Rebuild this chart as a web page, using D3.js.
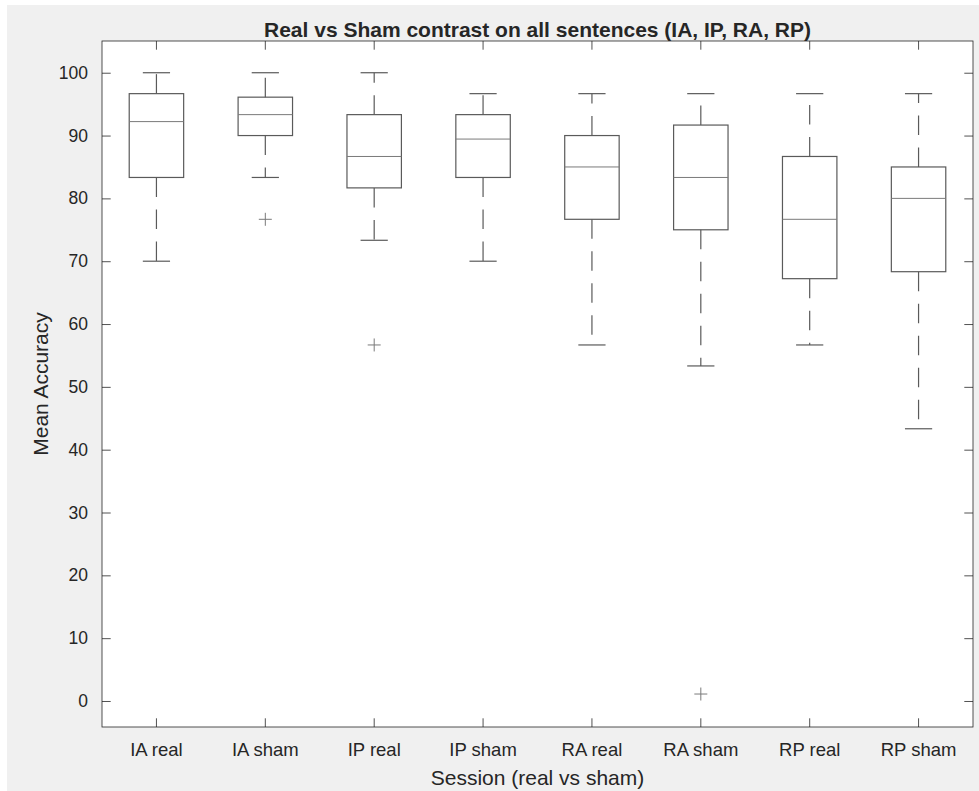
<!DOCTYPE html>
<html>
<head>
<meta charset="utf-8">
<script src="https://cdn.jsdelivr.net/npm/d3@7"></script>
<style>
	body { margin: 0; background: #fff; }
	text { font-family: 'Liberation Sans', Arial, sans-serif; fill: #262626; }
</style>
</head>
<body>
<div id="chart"></div>
<script>
let width = 979
let height = 791

let sessions = ['IA real', 'IA sham', 'IP real', 'IP sham', 'RA real', 'RA sham', 'RP real', 'RP sham']
let whiskerLow = [70, 83.33, 73.33, 70, 56.67, 53.33, 56.67, 43.33]
let q1 = [83.33, 90, 81.67, 83.33, 76.67, 75, 67.22, 68.33]
let medians = [92.22, 93.33, 86.67, 89.44, 85, 83.33, 76.67, 80]
let q3 = [96.67, 96.11, 93.33, 93.33, 90, 91.67, 86.67, 85]
let whiskerHigh = [100, 100, 100, 96.67, 96.67, 96.67, 96.67, 96.67]
let outliers = [
	{ session : 'IA sham', value : 76.67 },
	{ session : 'IP real', value : 56.67 },
	{ session : 'RA sham', value : 1.11 },
]
let yTicks = [0, 10, 20, 30, 40, 50, 60, 70, 80, 90, 100]

let margins = {
	'top' : 41,
	'right' : 6,
	'bottom' : 64,
	'left' : 102,
}

let innerW = width - margins.left - margins.right
let innerH = height - margins.top - margins.bottom
let tickLen = 8.7

let boxes = sessions.map((s, i) => {
	return {
		session : s,
		lo : whiskerLow[i],
		q1 : q1[i],
		med : medians[i],
		q3 : q3[i],
		hi : whiskerHigh[i],
	}
})

let xScale = d3.scaleBand()
	.domain(sessions)
	.range([0, innerW])

let yScale = d3.scaleLinear()
	.domain([-4.14, 105.05])
	.range([innerH, 0])

let svg = d3.select('#chart').append('svg')
	.attr('width', width)
	.attr('height', height)

// figure background
svg.append('rect')
	.attr('x', 7)
	.attr('y', 5)
	.attr('width', width - 7)
	.attr('height', height - 5)
	.attr('fill', '#f0f0f0')

let inner = svg.append('g')
	.attr('transform', `translate(${margins.left},${margins.top})`)

inner.append('rect')
	.attr('width', innerW)
	.attr('height', innerH)
	.attr('fill', '#fff')

let bw = xScale.bandwidth()
let cx = (d) => xScale(d) + bw / 2

// axes, ticks inside on all four sides
let axisColor = '#262626'

let xAxis = d3.axisBottom(xScale)
	.tickSizeInner(-tickLen)
	.tickSizeOuter(0)
	.tickPadding(16)

let xAxisTop = d3.axisTop(xScale)
	.tickSizeInner(-tickLen)
	.tickSizeOuter(0)
	.tickFormat('')

let yAxis = d3.axisLeft(yScale)
	.tickValues(yTicks)
	.tickSizeInner(-tickLen)
	.tickSizeOuter(0)
	.tickPadding(14)

let yAxisRight = d3.axisRight(yScale)
	.tickValues(yTicks)
	.tickSizeInner(-tickLen)
	.tickSizeOuter(0)
	.tickFormat('')

let axisShell = inner.append('g')

let xg = axisShell.append('g')
	.attr('transform', `translate(0,${innerH})`)
	.call(xAxis)
axisShell.append('g').call(xAxisTop)
let yg = axisShell.append('g').call(yAxis)
axisShell.append('g')
	.attr('transform', `translate(${innerW},0)`)
	.call(yAxisRight)

axisShell.selectAll('.domain').remove()
axisShell.selectAll('line').attr('stroke', axisColor).attr('stroke-width', 0.8)
axisShell.selectAll('text')
	.attr('font-family', null)
	.attr('fill', axisColor)
xg.selectAll('text').attr('font-size', 18.5)
yg.selectAll('text').attr('font-size', 17.5)

// axes frame
inner.append('rect')
	.attr('width', innerW)
	.attr('height', innerH)
	.attr('fill', 'none')
	.attr('stroke', axisColor)
	.attr('stroke-width', 0.8)

// boxplots
let marks = inner.append('g')
let boxColor = '#5a5a5a'

let groups = marks.selectAll('g.box')
	.data(boxes)
	.enter()
	.append('g')
	.classed('box', true)

// whiskers, dashed from the box edge outward
groups.append('line')
	.attr('x1', (d) => cx(d.session))
	.attr('x2', (d) => cx(d.session))
	.attr('y1', (d) => yScale(d.q3))
	.attr('y2', (d) => yScale(d.hi))
	.attr('stroke', boxColor)
	.attr('stroke-width', 1.2)
	.attr('stroke-dasharray', '19.5,12.5')

groups.append('line')
	.attr('x1', (d) => cx(d.session))
	.attr('x2', (d) => cx(d.session))
	.attr('y1', (d) => yScale(d.q1))
	.attr('y2', (d) => yScale(d.lo))
	.attr('stroke', boxColor)
	.attr('stroke-width', 1.2)
	.attr('stroke-dasharray', '19.5,12.5')

// caps
groups.selectAll('line.cap')
	.data((d) => [d, d].map((v, k) => ({ session : d.session, value : k ? d.lo : d.hi })))
	.enter()
	.append('line')
	.classed('cap', true)
	.attr('x1', (d) => cx(d.session) - bw / 8)
	.attr('x2', (d) => cx(d.session) + bw / 8)
	.attr('y1', (d) => yScale(d.value))
	.attr('y2', (d) => yScale(d.value))
	.attr('stroke', boxColor)
	.attr('stroke-width', 1.2)

groups.append('rect')
	.attr('x', (d) => cx(d.session) - bw / 4)
	.attr('y', (d) => yScale(d.q3))
	.attr('width', bw / 2)
	.attr('height', (d) => yScale(d.q1) - yScale(d.q3))
	.attr('fill', 'none')
	.attr('stroke', boxColor)
	.attr('stroke-width', 1.2)

groups.append('line')
	.attr('x1', (d) => cx(d.session) - bw / 4)
	.attr('x2', (d) => cx(d.session) + bw / 4)
	.attr('y1', (d) => yScale(d.med))
	.attr('y2', (d) => yScale(d.med))
	.attr('stroke', '#7a7a7a')
	.attr('stroke-width', 1)

// outliers as plus signs
let plus = 6.5
let outG = marks.selectAll('g.outlier')
	.data(outliers)
	.enter()
	.append('g')
	.classed('outlier', true)
	.attr('transform', (d) => `translate(${cx(d.session)},${yScale(d.value)})`)

outG.append('path')
	.attr('d', `M${-plus},0H${plus}M0,${-plus}V${plus}`)
	.attr('stroke', '#7a7a7a')
	.attr('stroke-width', 1)

// labels
svg.append('text')
	.text('Real vs Sham contrast on all sentences (IA, IP, RA, RP)')
	.attr('x', margins.left + innerW / 2)
	.attr('y', 37)
	.attr('text-anchor', 'middle')
	.attr('font-size', 21)
	.attr('font-weight', 'bold')
	.attr('fill', '#000')

svg.append('text')
	.text('Session (real vs sham)')
	.attr('x', margins.left + innerW / 2)
	.attr('y', 785)
	.attr('text-anchor', 'middle')
	.attr('font-size', 21)

svg.append('text')
	.text('Mean Accuracy')
	.attr('transform', `translate(48,${margins.top + innerH / 2}) rotate(-90)`)
	.attr('text-anchor', 'middle')
	.attr('font-size', 21)
</script>
</body>
</html>
